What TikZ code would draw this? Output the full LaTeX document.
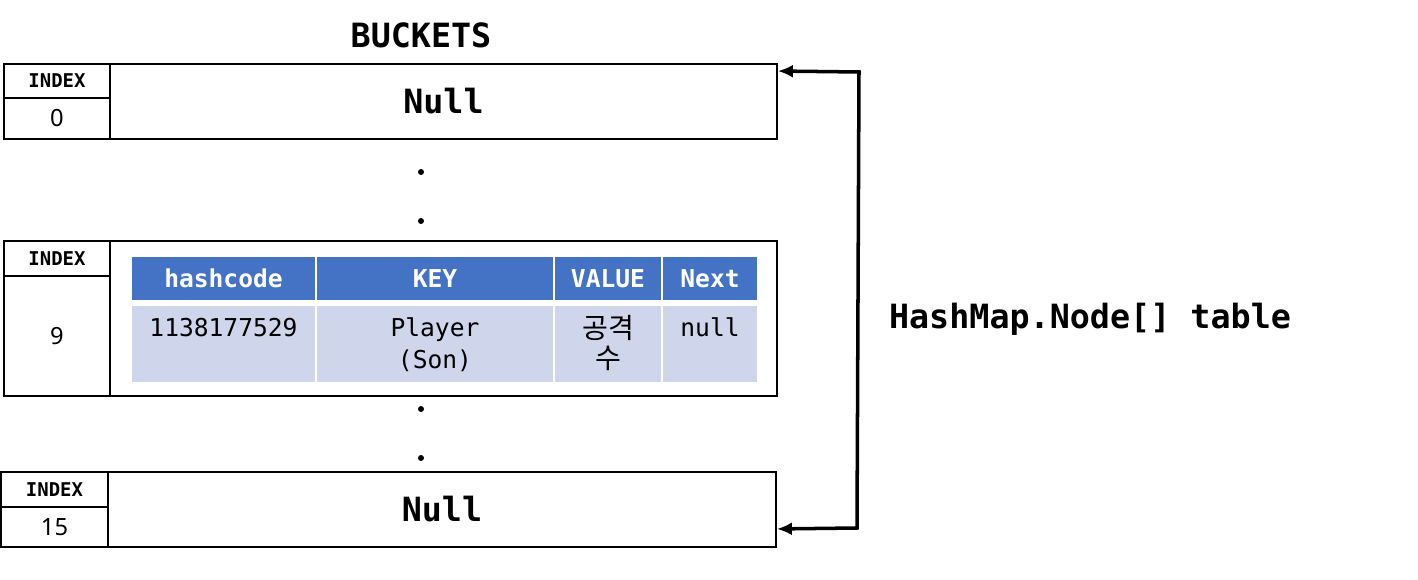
\documentclass[tikz,border=0pt]{standalone}
\usepackage{fontspec}
\setmainfont{Noto Sans}
\setmonofont{DejaVu Sans Mono}
\newfontfamily\krfont{Noto Sans CJK KR}
\usetikzlibrary{arrows.meta, positioning}
\definecolor{headblue}{HTML}{4472C4}
\definecolor{bodyblue}{HTML}{CFD5EA}
\tikzstyle{title} = [font=\ttfamily\bfseries\fontsize{19}{23}\selectfont]
\tikzstyle{idxhead} = [rectangle, minimum width=2.12cm, minimum height=0.69cm, inner sep=0pt, draw=black, line width=1.1pt, font=\ttfamily\bfseries\fontsize{10.8}{13}\selectfont]
\tikzstyle{idxval} = [rectangle, minimum width=2.12cm, inner sep=0pt, draw=black, line width=1.1pt, font=\fontsize{13.5}{16}\selectfont]
\tikzstyle{bucket} = [rectangle, minimum width=13.34cm, inner sep=0pt, draw=black, line width=1.1pt, font=\ttfamily\bfseries\fontsize{19}{23}\selectfont]
\tikzstyle{thead} = [rectangle, minimum height=0.86cm, inner sep=0pt, fill=headblue, text=white, font=\ttfamily\bfseries\fontsize{14}{17}\selectfont]
\tikzstyle{tbody} = [rectangle, minimum height=1.52cm, inner sep=0pt, fill=bodyblue]
\tikzstyle{tcell} = [anchor=north, inner sep=0pt, align=center, font=\ttfamily\fontsize{14}{18.2}\selectfont]
\tikzstyle{dot} = [circle, fill=black, minimum size=0.12cm, inner sep=0pt]

\begin{document}
\begin{tikzpicture}[x=0.02cm, y=-0.02cm]
    \useasboundingbox (0,0) rectangle (1418,580);
    \node at (421,35) [title] (buckets) {BUCKETS};

    % index 0
    \node at (57,81) [idxhead] (idx0) {INDEX};
    \node at (57,118.5) [idxval, minimum height=0.82cm] (val0) {0};
    \node at (443.5,101.5) [bucket, minimum height=1.5cm] (bucket0) {Null};

    \node at (421,172) [dot] (d1) {};
    \node at (421,221) [dot] (d2) {};

    % index 9
    \node at (57,258.5) [idxhead] (idx9) {INDEX};
    \node at (57,336) [idxval, minimum height=2.4cm] (val9) {9};
    \node at (443.5,318.5) [bucket, minimum height=3.1cm] (bucket9) {};

    \node at (223.5,278.5) [thead, minimum width=3.66cm] (hhash) {hashcode};
    \node at (435,278.5) [thead, minimum width=4.72cm] (hkey) {KEY};
    \node at (608,278.5) [thead, minimum width=2.12cm] (hval) {VALUE};
    \node at (710,278.5) [thead, minimum width=1.88cm] (hnext) {Next};
    \node at (223.5,344) [tbody, minimum width=3.66cm] (bhash) {};
    \node at (435,344) [tbody, minimum width=4.72cm] (bkey) {};
    \node at (608,344) [tbody, minimum width=2.12cm] (bval) {};
    \node at (710,344) [tbody, minimum width=1.88cm] (bnext) {};
    \node[tcell, below=0.24cm of bhash.north] {1138177529};
    \node[tcell, below=0.24cm of bkey.north] {Player\\(Son)};
    \node[tcell, below=0.18cm of bval.north, font=\krfont\fontsize{16}{17.5}\selectfont] {공격\\수};
    \node[tcell, below=0.24cm of bnext.north] {null};

    \node at (421,409) [dot] (d3) {};
    \node at (421,458) [dot] (d4) {};

    % index 15
    \node at (54.5,489.5) [idxhead, minimum width=2.14cm] (idx15) {INDEX};
    \node at (54.5,527) [idxval, minimum width=2.14cm, minimum height=0.8cm] (val15) {15};
    \node at (442,509.5) [bucket, minimum width=13.36cm, minimum height=1.5cm] (bucket15) {Null};

    \node at (1090,319) [title] (table) {HashMap.Node[] table};

    \coordinate (rtop) at (859,72);
    \coordinate (rbot) at (857,528);
    \draw[{Latex[length=0.3cm,width=0.26cm]}-{Latex[length=0.3cm,width=0.26cm]}, line width=2pt] ([yshift=-0.16cm]bucket0.north east) -- (rtop) -- (rbot) -- ([yshift=0.38cm]bucket15.south east);
\end{tikzpicture}
\end{document}
